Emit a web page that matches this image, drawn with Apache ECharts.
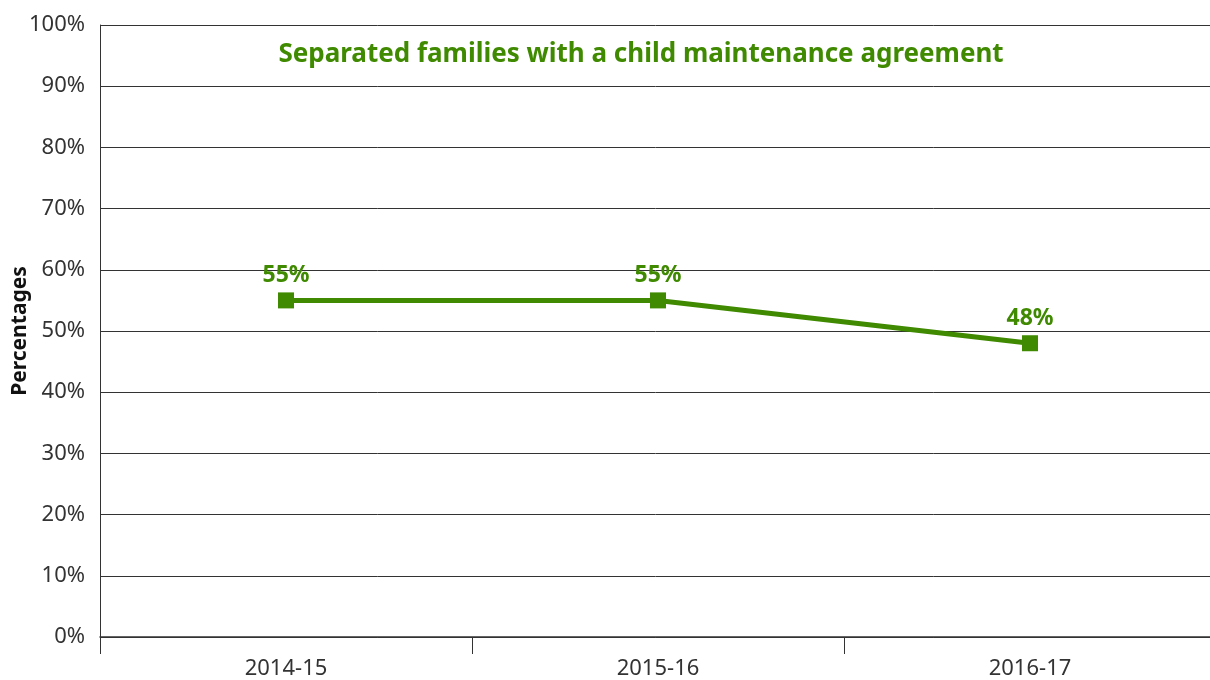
<!DOCTYPE html>
<html>
  <head>
    <meta charset="utf-8" />
    <title>Child maintenance</title>
    <script src="https://cdn.jsdelivr.net/npm/echarts@6/dist/echarts.min.js"></script>
    <style>
      html, body { margin: 0; padding: 0; background: #fff; }
    </style>
  </head>
  <body>
    <div id="main" style="width: 1210px; height: 680px"></div>
    <script type="text/javascript">
      var categories = ["2014-15", "2015-16", "2016-17"];
      var agreement = [55, 55, 48];
      var seriesName = "Separated families with a child maintenance agreement";
      var green = "#3f8a00";

      var myChart = echarts.init(document.getElementById("main"));

      var option = {
        animation: false,
        textStyle: { fontFamily: "Noto Sans" },
        title: {
          text: seriesName,
          left: 636,
          textAlign: "center",
          top: 37,
          textStyle: { color: green, fontSize: 26, fontWeight: "bold", fontFamily: "Noto Sans" },
        },
        grid: {
          left: 100,
          right: -6,
          top: 25,
          bottom: 43,
          outerBoundsMode: "none",
          containLabel: false,
        },
        xAxis: {
          type: "category",
          data: categories,
          boundaryGap: true,
          axisLine: { show: true, lineStyle: { color: "#333", width: 1.5 } },
          axisTick: { show: true, length: 17, lineStyle: { color: "#333" } },
          axisLabel: { color: "#333", fontSize: 22, margin: 21 },
        },
        yAxis: {
          type: "value",
          min: 0,
          max: 100,
          interval: 10,
          name: "Percentages",
          nameLocation: "middle",
          nameGap: 69,
          nameMoveOverlap: false,
          nameTextStyle: { color: "#111", fontSize: 21, fontWeight: "bold" },
          axisLine: { show: true, lineStyle: { color: "#333" } },
          axisTick: { show: false },
          axisLabel: {
            color: "#333",
            fontSize: 22,
            margin: 15,
            formatter: "{value}%",
          },
          splitLine: { show: true, lineStyle: { color: "#333", width: 1 } },
        },
        series: [
          {
            name: seriesName,
            type: "line",
            data: agreement,
            symbol: "rect",
            symbolSize: 16,
            itemStyle: { color: green },
            lineStyle: { color: green, width: 5 },
            label: {
              show: true,
              position: "top",
              distance: 5,
              color: green,
              fontSize: 23,
              fontWeight: "bold",
              formatter: "{c}%",
            },
          },
        ],
      };
      myChart.setOption(option);
    </script>
  </body>
</html>
